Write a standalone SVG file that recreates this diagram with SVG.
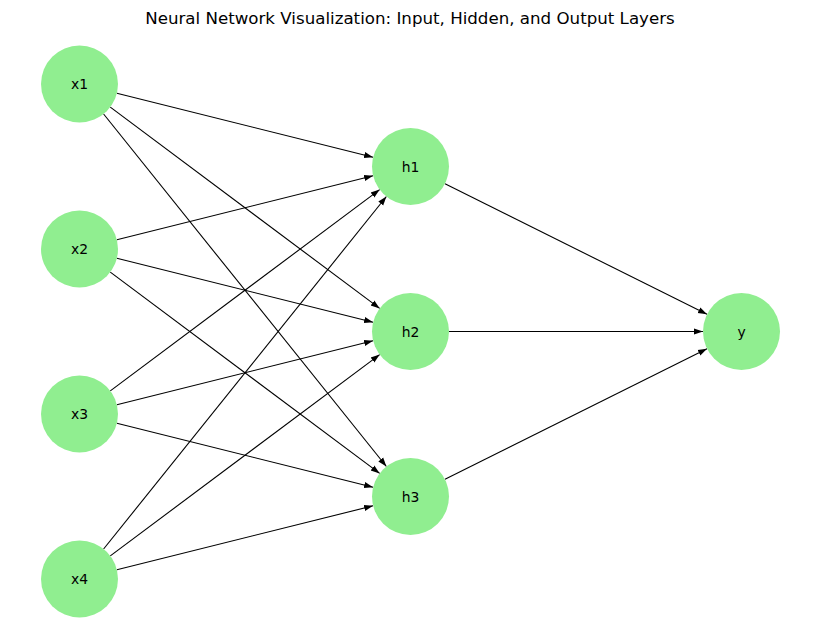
<svg xmlns="http://www.w3.org/2000/svg" width="819" height="642" viewBox="0 0 819 642">
<style>
.n{fill:#90ee90}
.t{font-family:"DejaVu Sans",sans-serif;font-size:13.9px;fill:#000;text-anchor:middle;dominant-baseline:central}
.e{stroke:#000;stroke-width:1.1;fill:none;marker-end:url(#ah)}
.title{font-family:"DejaVu Sans",sans-serif;font-size:16.67px;fill:#000;text-anchor:middle}
</style>
<defs>
<marker id="ah" markerUnits="userSpaceOnUse" markerWidth="9" markerHeight="8" viewBox="0 0 9 8" refX="9" refY="4" orient="auto">
<path d="M0,0.9 L9,4 L0,7.1 z" fill="#000"/>
</marker>
</defs>
<rect width="819" height="642" fill="#fff"/>
<text class="title" x="410" y="24">Neural Network Visualization: Input, Hidden, and Output Layers</text>
<g id="edges">
<line class="e" x1="116.9" y1="93.3" x2="373.1" y2="157.2"/>
<line class="e" x1="110.3" y1="107.1" x2="379.7" y2="308.4"/>
<line class="e" x1="103.6" y1="114.0" x2="386.4" y2="466.5"/>
<line class="e" x1="116.9" y1="239.7" x2="373.1" y2="175.8"/>
<line class="e" x1="116.9" y1="258.3" x2="373.1" y2="322.2"/>
<line class="e" x1="110.3" y1="272.1" x2="379.7" y2="473.4"/>
<line class="e" x1="110.3" y1="390.9" x2="379.7" y2="189.6"/>
<line class="e" x1="116.9" y1="404.7" x2="373.1" y2="340.8"/>
<line class="e" x1="116.9" y1="423.3" x2="373.1" y2="487.2"/>
<line class="e" x1="103.6" y1="549.0" x2="386.4" y2="196.5"/>
<line class="e" x1="110.3" y1="555.9" x2="379.7" y2="354.6"/>
<line class="e" x1="116.9" y1="569.7" x2="373.1" y2="505.8"/>
<line class="e" x1="445" y1="183.7" x2="707" y2="314.3"/>
<line class="e" x1="449" y1="331.5" x2="703" y2="331.5"/>
<line class="e" x1="445" y1="479.3" x2="707" y2="348.7"/>
</g>
<g id="x1"><circle class="n" cx="79.5" cy="84" r="38.5"/><text class="t" x="79.5" y="84">x1</text></g>
<g id="x2"><circle class="n" cx="79.5" cy="249" r="38.5"/><text class="t" x="79.5" y="249">x2</text></g>
<g id="x3"><circle class="n" cx="79.5" cy="414" r="38.5"/><text class="t" x="79.5" y="414">x3</text></g>
<g id="x4"><circle class="n" cx="79.5" cy="579" r="38.5"/><text class="t" x="79.5" y="579">x4</text></g>
<g id="h1"><circle class="n" cx="410.5" cy="166.5" r="38.5"/><text class="t" x="410.5" y="166.5">h1</text></g>
<g id="h2"><circle class="n" cx="410.5" cy="331.5" r="38.5"/><text class="t" x="410.5" y="331.5">h2</text></g>
<g id="h3"><circle class="n" cx="410.5" cy="496.5" r="38.5"/><text class="t" x="410.5" y="496.5">h3</text></g>
<g id="y"><circle class="n" cx="741.5" cy="331.5" r="38.5"/><text class="t" x="741.5" y="331.5">y</text></g>
</svg>
